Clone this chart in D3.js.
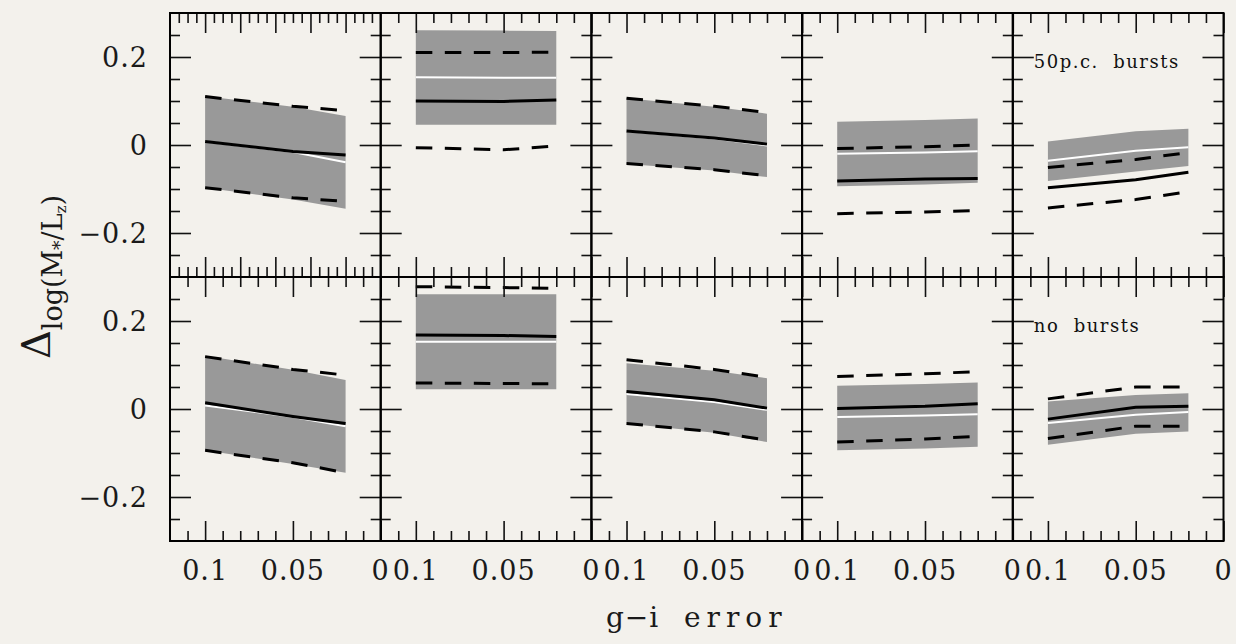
<!DOCTYPE html>
<html>
<head>
<meta charset="utf-8">
<script src="https://cdn.jsdelivr.net/npm/d3@7"></script>
<style>
  html, body { margin: 0; padding: 0; background: #f3f1ec; }
  svg { display: block; font-family: "DejaVu Serif", serif; }
  .tick line { stroke: #111; stroke-width: 1.6; }
</style>
</head>
<body>
<div id="chart"></div>
<script>
// x positions of the three error values (same for every panel)
const xErr = [0.1, 0.05, 0.02];
const rowLabels = ["50p.c.  bursts", "no  bursts"];

// row 1: 50p.c. bursts  (one array per panel)
const burstBandHi = [[0.111, 0.087, 0.066], [0.261, 0.260, 0.259], [0.106, 0.087, 0.071], [0.053, 0.057, 0.060], [0.008, 0.031, 0.037]];
const burstBandLo = [[-0.097, -0.124, -0.145], [0.046, 0.046, 0.046], [-0.043, -0.058, -0.073], [-0.094, -0.090, -0.086], [-0.082, -0.060, -0.048]];
const burstMean   = [[0.008, -0.016, -0.039], [0.154, 0.153, 0.153], [0.032, 0.015, -0.001], [-0.020, -0.017, -0.014], [-0.036, -0.013, -0.005]];
const burstSolid  = [[0.008, -0.015, -0.023], [0.100, 0.099, 0.102], [0.032, 0.016, 0.002], [-0.082, -0.077, -0.076], [-0.097, -0.079, -0.062]];
const burstDashHi = [[0.110, 0.088, 0.078], [0.210, 0.210, 0.211], [0.106, 0.088, 0.074], [-0.008, -0.004, 0.000], [-0.051, -0.033, -0.017]];
const burstDashLo = [[-0.097, -0.120, -0.128], [-0.006, -0.011, -0.002], [-0.042, -0.056, -0.070], [-0.156, -0.152, -0.149], [-0.143, -0.124, -0.106]];

// row 2: no bursts
const noBandHi = [[0.121, 0.089, 0.066], [0.261, 0.261, 0.261], [0.104, 0.087, 0.070], [0.053, 0.057, 0.060], [0.017, 0.032, 0.036]];
const noBandLo = [[-0.094, -0.125, -0.145], [0.045, 0.045, 0.045], [-0.033, -0.054, -0.075], [-0.094, -0.090, -0.086], [-0.081, -0.056, -0.051]];
const noMean   = [[0.008, -0.018, -0.039], [0.153, 0.153, 0.153], [0.034, 0.016, -0.002], [-0.018, -0.015, -0.012], [-0.032, -0.013, -0.007]];
const noSolid  = [[0.014, -0.017, -0.033], [0.168, 0.167, 0.165], [0.040, 0.021, 0.002], [0.001, 0.006, 0.012], [-0.023, 0.004, 0.006]];
const noDashHi = [[0.119, 0.090, 0.077], [0.278, 0.276, 0.274], [0.112, 0.090, 0.072], [0.074, 0.080, 0.085], [0.023, 0.050, 0.050]];
const noDashLo = [[-0.094, -0.122, -0.145], [0.059, 0.058, 0.057], [-0.033, -0.052, -0.071], [-0.075, -0.068, -0.062], [-0.067, -0.039, -0.039]];

// tick values
const yMajor = [-0.2, 0, 0.2];
const yMinor = [-0.25, -0.15, -0.1, -0.05, 0.05, 0.1, 0.15, 0.25];
const xMajor = [0.1, 0.05, 0];
const xMinor = [0.11, 0.09, 0.08, 0.07, 0.06, 0.04, 0.03, 0.02, 0.01];
// first top-left panel has a finer x ticking in the original
const xMajorFine = [0.1, 0.08, 0.06, 0.04, 0.02];
const xMinorFine = [0.115, 0.11, 0.105, 0.095, 0.09, 0.085, 0.075, 0.07, 0.065, 0.055, 0.05, 0.045,
                    0.035, 0.03, 0.025, 0.015, 0.01, 0.005];
const xLabels = ["0.1", "0.05", "0"];
const yLabels = ["\u22120.2", "0", "0.2"];

const rows = [
  { hi: burstBandHi, lo: burstBandLo, mean: burstMean, solid: burstSolid, dHi: burstDashHi, dLo: burstDashLo },
  { hi: noBandHi, lo: noBandLo, mean: noMean, solid: noSolid, dHi: noDashHi, dLo: noDashLo }
];

const W = 1236, H = 644;
const padLeft = 170, padTop = 13, pw = 210.7, ph = 264;
const ncol = 5;

const svg = d3.select("#chart").append("svg")
  .attr("width", W).attr("height", H);

svg.append("rect").attr("width", W).attr("height", H).attr("fill", "#f3f1ec");

function ticks(g, axisFn, scale, values, size, transform) {
  const a = g.append("g")
    .attr("transform", transform)
    .call(axisFn(scale).tickValues(values).tickSize(size).tickFormat(""));
  a.select(".domain").remove();
}

rows.forEach((row, r) => {
  const y0 = padTop + r * ph;
  const y = d3.scaleLinear().domain([-0.3, 0.3]).range([y0 + ph, y0]);

  for (let c = 0; c < ncol; c++) {
    const x0 = padLeft + c * pw;
    const x = d3.scaleLinear().domain([0.12, 0]).range([x0, x0 + pw]);
    const g = svg.append("g");

    const pts = xErr.map((e, i) => ({
      x: e, hi: row.hi[c][i], lo: row.lo[c][i], mean: row.mean[c][i],
      solid: row.solid[c][i], dHi: row.dHi[c][i], dLo: row.dLo[c][i]
    }));

    // grey band
    g.append("path")
      .datum(pts)
      .attr("fill", "#999999")
      .attr("d", d3.area().x(d => x(d.x)).y0(d => y(d.lo)).y1(d => y(d.hi)));

    // white mean line
    g.append("path")
      .datum(pts)
      .attr("fill", "none").attr("stroke", "#ffffff").attr("stroke-width", 2)
      .attr("d", d3.line().x(d => x(d.x)).y(d => y(d.mean)));

    // black solid line
    g.append("path")
      .datum(pts)
      .attr("fill", "none").attr("stroke", "#000").attr("stroke-width", 3)
      .attr("d", d3.line().x(d => x(d.x)).y(d => y(d.solid)));

    // dashed lines
    ["dHi", "dLo"].forEach(k => {
      g.append("path")
        .datum(pts)
        .attr("fill", "none").attr("stroke", "#000").attr("stroke-width", 3)
        .attr("stroke-dasharray", "16.5,12.5")
        .attr("d", d3.line().x(d => x(d.x)).y(d => y(d[k])));
    });

    // ticks on all four sides
    const fine = (r === 0 && c === 0);
    const xm = fine ? xMajorFine : xMajor;
    const xn = fine ? xMinorFine : xMinor;
    ticks(g, d3.axisBottom, x, xm, 20, `translate(0,${y0})`);
    ticks(g, d3.axisBottom, x, xn, 10, `translate(0,${y0})`);
    ticks(g, d3.axisTop, x, xm, 20, `translate(0,${y0 + ph})`);
    ticks(g, d3.axisTop, x, xn, 10, `translate(0,${y0 + ph})`);
    ticks(g, d3.axisRight, y, yMajor, 21, `translate(${x0},0)`);
    ticks(g, d3.axisRight, y, yMinor, 10, `translate(${x0},0)`);
    ticks(g, d3.axisLeft, y, yMajor, 21, `translate(${x0 + pw},0)`);
    ticks(g, d3.axisLeft, y, yMinor, 10, `translate(${x0 + pw},0)`);

    g.append("rect")
      .attr("x", x0).attr("y", y0).attr("width", pw).attr("height", ph)
      .attr("fill", "none").attr("stroke", "#000").attr("stroke-width", 2);

    // x tick labels under bottom row
    if (r === rows.length - 1) {
      xMajor.forEach((v, i) => {
        g.append("text")
          .attr("x", x(v)).attr("y", y0 + ph + 39)
          .attr("text-anchor", "middle")
          .attr("font-size", 27).attr("letter-spacing", 1).attr("fill", "#1a1a1a")
          .text(xLabels[i]);
      });
    }

    // y tick labels on first column
    if (c === 0) {
      yMajor.forEach((v, i) => {
        g.append("text")
          .attr("x", x0 - 22).attr("y", y(v))
          .attr("dy", "0.36em")
          .attr("text-anchor", "end")
          .attr("font-size", 27).attr("letter-spacing", 1).attr("fill", "#1a1a1a")
          .text(yLabels[i]);
      });
    }

    // row label in the last panel
    if (c === ncol - 1) {
      g.append("text")
        .attr("x", x(0.108)).attr("y", y(0.19))
        .attr("dy", "0.35em")
        .attr("font-size", 18).attr("fill", "#111")
        .attr("letter-spacing", 1.5)
        .style("white-space", "pre")
        .text(rowLabels[r]);
    }
  }
});

// x axis title
const xt = svg.append("text")
  .attr("x", padLeft + ncol * pw / 2).attr("y", 627)
  .attr("text-anchor", "middle")
  .attr("font-size", 28).attr("fill", "#1a1a1a")
  .style("white-space", "pre");
xt.append("tspan").attr("letter-spacing", 1).text("g\u2212i ");
xt.append("tspan").attr("letter-spacing", 6).text(" error");

// y axis title: Δ with subscript log(M*/Lz)
const yt = svg.append("text")
  .attr("transform", `translate(50,${padTop + ph}) rotate(-90)`)
  .attr("text-anchor", "middle")
  .attr("fill", "#1a1a1a");
yt.append("tspan").attr("font-size", 40).text("\u0394");
yt.append("tspan").attr("font-size", 27).attr("dy", 12).text("log(M");
yt.append("tspan").attr("font-size", 19).attr("dy", 4).text("*");
yt.append("tspan").attr("font-size", 27).attr("dy", -4).text("/L");
yt.append("tspan").attr("font-size", 15).attr("dy", 4).text("z");
yt.append("tspan").attr("font-size", 27).attr("dy", -4).text(")");
</script>
</body>
</html>
